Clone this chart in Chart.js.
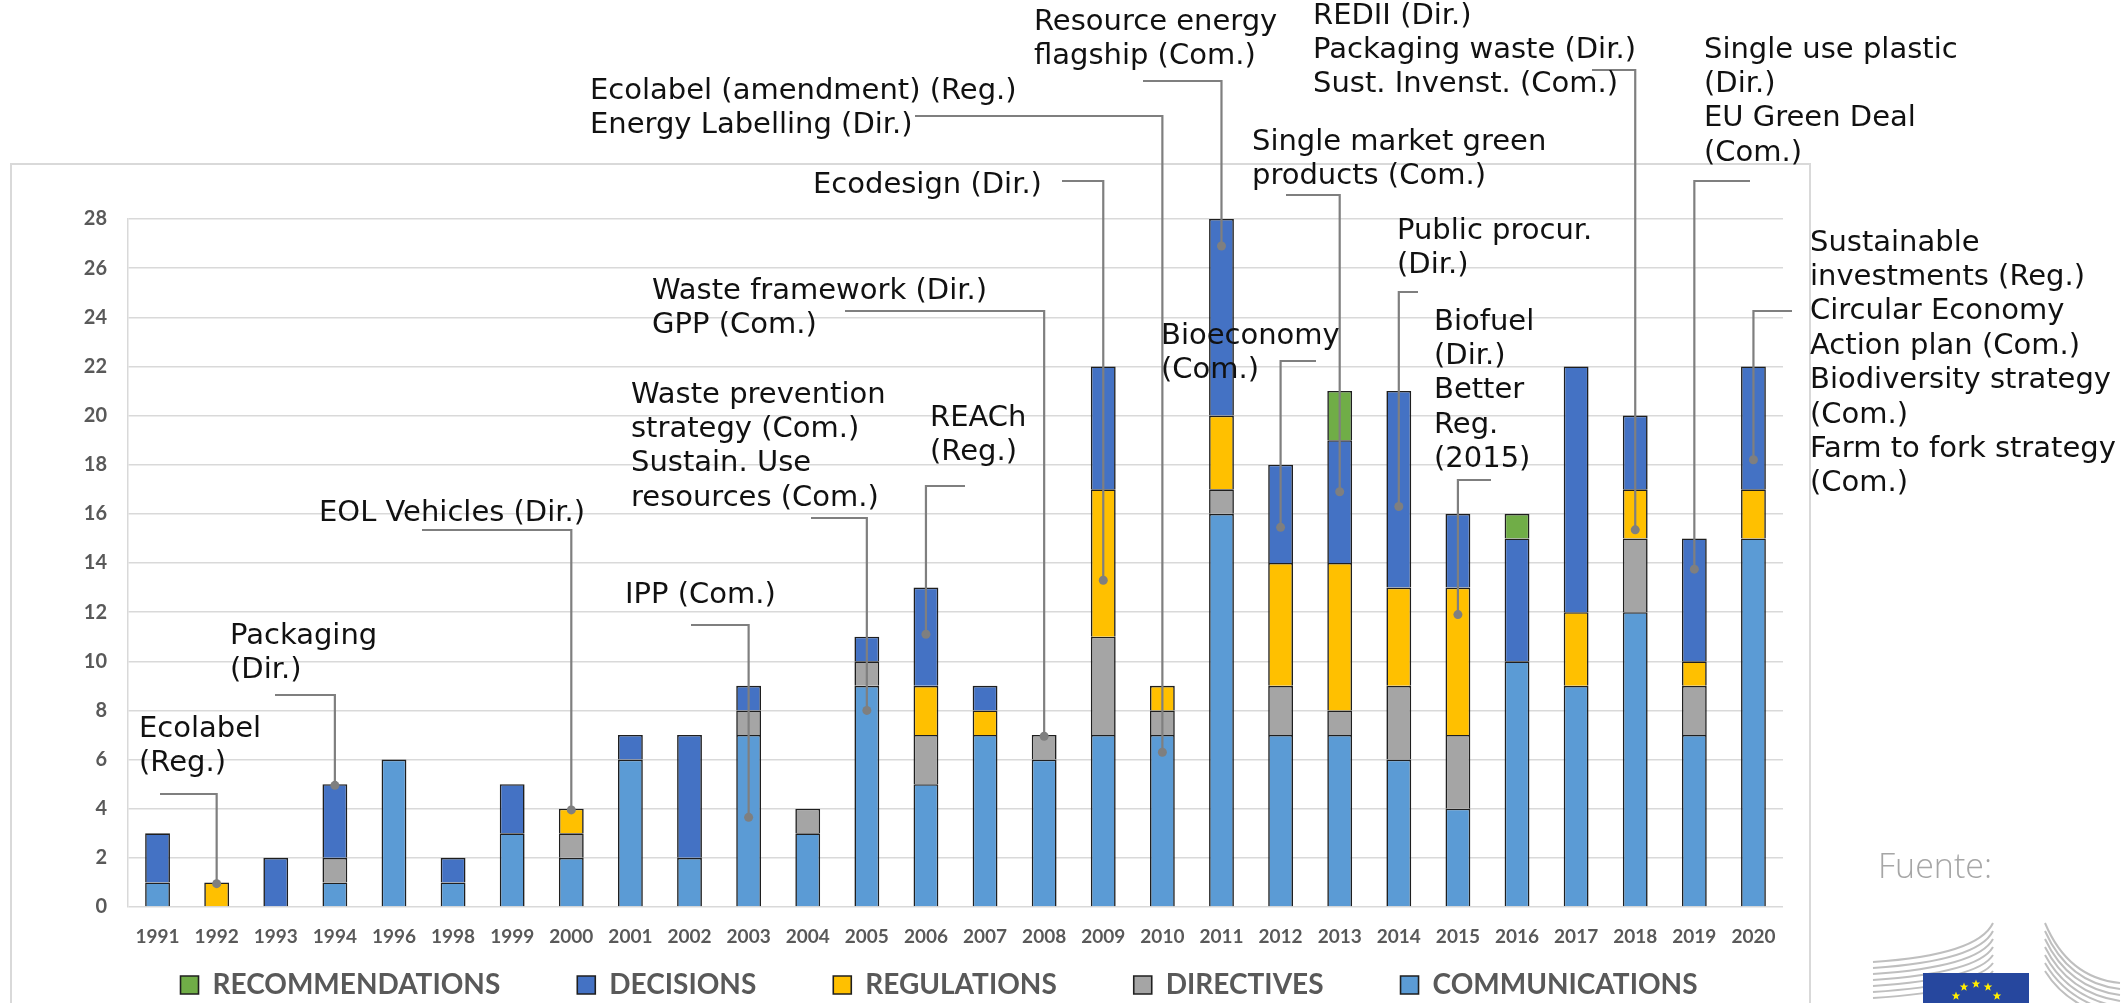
<!DOCTYPE html>
<html>
<head>
<meta charset="utf-8">
<title>EU acts by year</title>
<script src="https://cdn.jsdelivr.net/npm/chart.js@4.4.0/dist/chart.umd.min.js"></script>
<style>
    html, body { margin: 0; padding: 0; background: #fff; }
    #wrap { position: relative; width: 2128px; height: 1003px; overflow: hidden; }
</style>
</head>
<body>
<div id="wrap"><canvas id="acts" width="2128" height="1003"></canvas></div>
<script>
// Years shown on the axis (no acts in 1995 and 1997)
const years = ["1991", "1992", "1993", "1994", "1996", "1998", "1999", "2000", "2001", "2002",
    "2003", "2004", "2005", "2006", "2007", "2008", "2009", "2010", "2011", "2012",
    "2013", "2014", "2015", "2016", "2017", "2018", "2019", "2020"];

// Number of acts per type
const communications = [1, 0, 0, 1, 6, 1, 3, 2, 6, 2, 7, 3, 9, 5, 7, 6, 7, 7, 16, 7, 7, 6, 4, 10, 9, 12, 7, 15];
const directives = [0, 0, 0, 1, 0, 0, 0, 1, 0, 0, 1, 1, 1, 2, 0, 1, 4, 1, 1, 2, 1, 3, 3, 0, 0, 3, 2, 0];
const regulations = [0, 1, 0, 0, 0, 0, 0, 1, 0, 0, 0, 0, 0, 2, 1, 0, 6, 1, 3, 5, 6, 4, 6, 0, 3, 2, 1, 2];
const decisions = [2, 0, 2, 3, 0, 1, 2, 0, 1, 5, 1, 0, 1, 4, 1, 0, 5, 0, 8, 4, 5, 8, 3, 5, 10, 3, 5, 5];
const recommendations = [0, 0, 0, 0, 0, 0, 0, 0, 0, 0, 0, 0, 0, 0, 0, 0, 0, 0, 0, 0, 2, 0, 0, 1, 0, 0, 0, 0];

const yTicks = [0, 2, 4, 6, 8, 10, 12, 14, 16, 18, 20, 22, 24, 26, 28];

// Milestone call-outs: which bar they point at and at what height
const noteYears = ["1992", "1994", "2000", "2003", "2005", "2006", "2008", "2009", "2010",
    "2011", "2012", "2013", "2014", "2015", "2018", "2019", "2020"];
const noteValues = [0.95, 4.95, 3.95, 3.65, 8, 11.1, 6.95, 13.3, 6.3, 26.9, 15.45, 16.9, 16.3, 11.9, 15.35, 13.75, 18.2];
const noteTexts = [
    ["Ecolabel", "(Reg.)"],
    ["Packaging", "(Dir.)"],
    ["EOL Vehicles (Dir.)"],
    ["IPP (Com.)"],
    ["Waste prevention", "strategy (Com.)", "Sustain. Use", "resources (Com.)"],
    ["REACh", "(Reg.)"],
    ["Waste framework (Dir.)", "GPP (Com.)"],
    ["Ecodesign (Dir.)"],
    ["Ecolabel (amendment) (Reg.)", "Energy Labelling (Dir.)"],
    ["Resource energy", "flagship (Com.)"],
    ["Bioeconomy", "(Com.)"],
    ["Single market green", "products (Com.)"],
    ["Public procur.", "(Dir.)"],
    ["Biofuel", "(Dir.)", "Better", "Reg.", "(2015)"],
    ["REDII (Dir.)", "Packaging waste (Dir.)", "Sust. Invenst. (Com.)"],
    ["Single use plastic", "(Dir.)", "EU Green Deal", "(Com.)"],
    ["Sustainable", "investments (Reg.)", "Circular Economy", "Action plan (Com.)",
        "Biodiversity strategy", "(Com.)", "Farm to fork strategy", "(Com.)"]
];

// page layout of each call-out: text left, first line middle, leader start x, leader y
const notePlaces = [
    [139, 729, 160, 794],
    [230, 636, 275, 695],
    [319, 513, 422, 530],
    [625, 595, 691, 625],
    [631, 395, 811, 518],
    [930, 418, 965, 486],
    [652, 291, 845, 311],
    [813, 185, 1062, 181],
    [590, 91, 915, 116],
    [1034, 22, 1143, 81],
    [1161, 336, 1316, 361],
    [1252, 142, 1286, 195],
    [1397, 231, 1418, 292],
    [1434, 322, 1491, 480],
    [1313, 16, 1592, 70],
    [1704, 50, 1750, 181],
    [1810, 243, 1792, 311]
];

const lineGap = 34.4;
const greyText = "#595959";
const legendGap = 77;

function star(ctx, cx, cy, r) {
    ctx.beginPath();
    for (let i = 0; i < 10; i++) {
        let rad = i % 2 === 0 ? r : r * 0.42;
        let a = -Math.PI / 2 + i * Math.PI / 5;
        ctx.lineTo(cx + rad * Math.cos(a), cy + rad * Math.sin(a));
    }
    ctx.closePath();
    ctx.fill();
}

// outer frame of the chart object
const framePlugin = {
    id: "frame",
    beforeDraw(chart) {
        const ctx = chart.ctx;
        ctx.save();
        ctx.strokeStyle = "#D9D9D9";
        ctx.lineWidth = 2;
        ctx.strokeRect(11, 164, 1799, 900);
        ctx.restore();
    }
};

// put the legend where the original has it (its draw is clipped to this box)
// items are drawn at top + padding, text middle should land near y = 985
const legendPlace = {
    id: "legendPlace",
    afterLayout(chart) {
        const lg = chart.legend;
        const w = lg.right - lg.left;
        lg.left = 939 - w / 2;
        lg.right = 939 + w / 2;
        lg.top = 985 - 14 - legendGap;
        lg.bottom = 1003;
    }
};

const notesPlugin = {
    id: "notes",
    afterDraw(chart) {
        const ctx = chart.ctx;
        const xs = chart.scales.x;
        const ys = chart.scales.y;
        ctx.save();

        // leaders first
        ctx.strokeStyle = "#7F7F7F";
        ctx.fillStyle = "#7F7F7F";
        ctx.lineWidth = 2.2;
        noteYears.forEach(function (yr, i) {
            let px = xs.getPixelForValue(years.indexOf(yr));
            let py = ys.getPixelForValue(noteValues[i]);
            let p = notePlaces[i];
            ctx.beginPath();
            ctx.moveTo(p[2], p[3]);
            ctx.lineTo(px, p[3]);
            ctx.lineTo(px, py);
            ctx.stroke();
            ctx.beginPath();
            ctx.arc(px, py, 4.5, 0, Math.PI * 2);
            ctx.fill();
        });

        // texts
        ctx.fillStyle = "#111";
        ctx.font = '29px "DejaVu Sans", Verdana, sans-serif';
        ctx.textAlign = "left";
        ctx.textBaseline = "middle";
        noteTexts.forEach(function (lines, i) {
            let p = notePlaces[i];
            lines.forEach(function (t, k) {
                ctx.fillText(t, p[0], p[1] + k * lineGap);
            });
        });

        // source + logo corner
        ctx.fillStyle = "#A6A6A6";
        ctx.font = '300 34px "Open Sans", sans-serif';
        ctx.fillText("Fuente:", 1878, 868);

        ctx.strokeStyle = "#BFBFBF";
        ctx.lineWidth = 2;
        for (let k = 0; k < 7; k++) {
            ctx.beginPath();
            ctx.moveTo(1873, 962 + 6 * k);
            ctx.quadraticCurveTo(1978, 955 + 6 * k, 1993, 923 + 8 * k);
            ctx.stroke();
            ctx.beginPath();
            ctx.moveTo(2045, 923 + 8 * k);
            ctx.quadraticCurveTo(2068, 978 + 5 * k, 2120, 983 + 6 * k);
            ctx.stroke();
        }
        ctx.fillStyle = "#26479E";
        ctx.fillRect(1923, 973, 106, 40);
        ctx.fillStyle = "#FFED00";
        [[1964, 987], [1976, 984], [1988, 987], [1956, 996], [1997, 996]].forEach(function (s) {
            star(ctx, s[0], s[1], 4.5);
        });
        ctx.restore();
    }
};

function makeSet(label, values, color) {
    return {
        label: label,
        data: values,
        backgroundColor: color,
        borderColor: "#1F1F1F",
        borderWidth: 1.6,
        borderSkipped: "start",
        barPercentage: 0.42,
        categoryPercentage: 1
    };
}

function drawChart() {
    new Chart(document.getElementById("acts"), {
        type: "bar",
        data: {
            labels: years,
            datasets: [
                makeSet("COMMUNICATIONS", communications, "#5B9BD5"),
                makeSet("DIRECTIVES", directives, "#A5A5A5"),
                makeSet("REGULATIONS", regulations, "#FFC000"),
                makeSet("DECISIONS", decisions, "#4472C4"),
                makeSet("RECOMMENDATIONS", recommendations, "#70AD47")
            ]
        },
        options: {
            responsive: false,
            devicePixelRatio: 1,
            animation: false,
            events: [],
            layout: { padding: { top: 219, right: 345, bottom: 0, left: 0 } },
            plugins: {
                tooltip: { enabled: false },
                legend: {
                    position: "bottom",
                    reverse: true,
                    maxHeight: 50,
                    labels: {
                        boxWidth: 18,
                        boxHeight: 18,
                        padding: legendGap,
                        color: greyText,
                        font: { family: "Lato", weight: "bold", size: 28 }
                    }
                }
            },
            scales: {
                x: {
                    stacked: true,
                    grid: { display: false, drawTicks: false },
                    border: { display: false },
                    ticks: {
                        padding: 18,
                        color: greyText,
                        maxRotation: 0,
                        autoSkip: false,
                        font: { family: "Lato", weight: "bold", size: 19 }
                    },
                    afterFit: function (scale) { scale.height = 46; }
                },
                y: {
                    stacked: true,
                    min: yTicks[0],
                    max: yTicks[yTicks.length - 1],
                    afterBuildTicks: function (scale) {
                        scale.ticks = yTicks.map(function (v) { return { value: v }; });
                    },
                    grid: { color: "#D9D9D9", lineWidth: 1.5, drawTicks: false },
                    border: { display: true, color: "#D9D9D9", width: 1.5 },
                    ticks: {
                        padding: 21,
                        color: greyText,
                        font: { family: "Lato", weight: "bold", size: 20 }
                    },
                    afterFit: function (scale) { scale.width = 128; }
                }
            }
        },
        plugins: [framePlugin, legendPlace, notesPlugin]
    });
}

Promise.all([
    document.fonts.load('bold 28px "Lato"'),
    document.fonts.load('29px "DejaVu Sans"'),
    document.fonts.load('300 34px "Open Sans"')
]).then(drawChart, drawChart);
</script>
</body>
</html>
